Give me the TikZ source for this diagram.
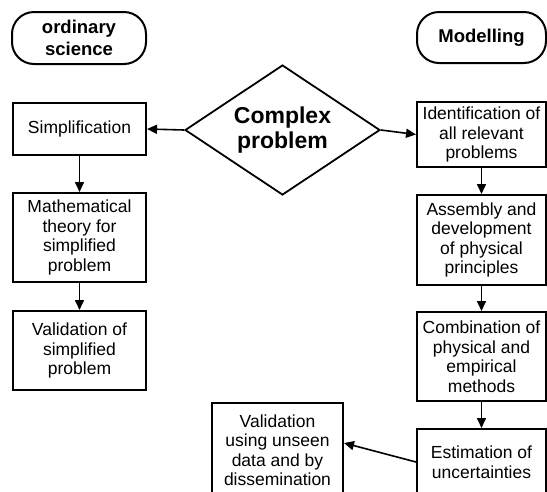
\documentclass[tikz,border=0pt]{standalone}
\usepackage{fontspec}
\setmainfont{Liberation Sans}
\usetikzlibrary{arrows.meta,shapes.geometric}
\begin{document}
\begin{tikzpicture}[x=1pt,y=-1pt,
  box/.style={draw,line width=2pt,rectangle,align=center,minimum width=133pt,inner sep=0pt,
    font=\fontsize{17.5}{19.5}\selectfont},
  term/.style={draw,line width=2pt,rectangle,rounded corners=22pt,align=center,inner sep=0pt,
    font=\bfseries\fontsize{18.5}{22}\selectfont},
  arr/.style={line width=1.6pt,-{Triangle[length=10pt,width=9pt]}}]
\useasboundingbox (0,0) rectangle (547,491);
\node[term,minimum width=134pt,minimum height=52pt] (os) at (79,38) {ordinary\\science};
\node[term,minimum width=129pt,minimum height=51pt] (mod) at (481.5,37.5) {Modelling};
\node[draw,line width=1.8pt,diamond,aspect=1.5,minimum width=195pt,minimum height=130pt,inner sep=0pt,align=center,
  font=\bfseries\fontsize{23}{25}\selectfont] (dia) at (282.5,130) {Complex\\problem};
\node[box,minimum height=52pt] (simp) at (79.5,129) {Simplification};
\node[box,minimum height=89pt] (math) at (79.5,237.5) {Mathematical\\theory for\\simplified\\problem};
\node[box,minimum height=79pt] (vals) at (79.5,350.5) {Validation of\\simplified\\problem};
\node[box,minimum width=129pt,minimum height=65pt] (ident) at (481.5,134.5) {Identification of\\all relevant\\problems};
\node[box,minimum width=129pt,minimum height=90pt] (assem) at (481.5,240) {Assembly and\\development\\of physical\\principles};
\node[box,minimum width=129pt,minimum height=89pt] (comb) at (481.5,356.5) {Combination of\\physical and\\empirical\\methods};
\node[box,minimum width=129pt,minimum height=66pt] (est) at (481.5,462) {Estimation of\\uncertainties};
\node[box,minimum width=131pt,minimum height=94pt] (valu) at (277.5,450) {Validation\\using unseen\\data and by\\dissemination};
\draw[arr] (dia.west) -- (simp.east);
\draw[arr] (dia.east) -- (ident.west);
\draw[arr] (simp) -- (math);
\draw[arr] (math) -- (vals);
\draw[arr] (ident) -- (assem);
\draw[arr] (assem) -- (comb);
\draw[arr] (comb) -- (est);
\draw[arr] (est.west) -- ([yshift=7pt]valu.east);
\end{tikzpicture}
\end{document}
